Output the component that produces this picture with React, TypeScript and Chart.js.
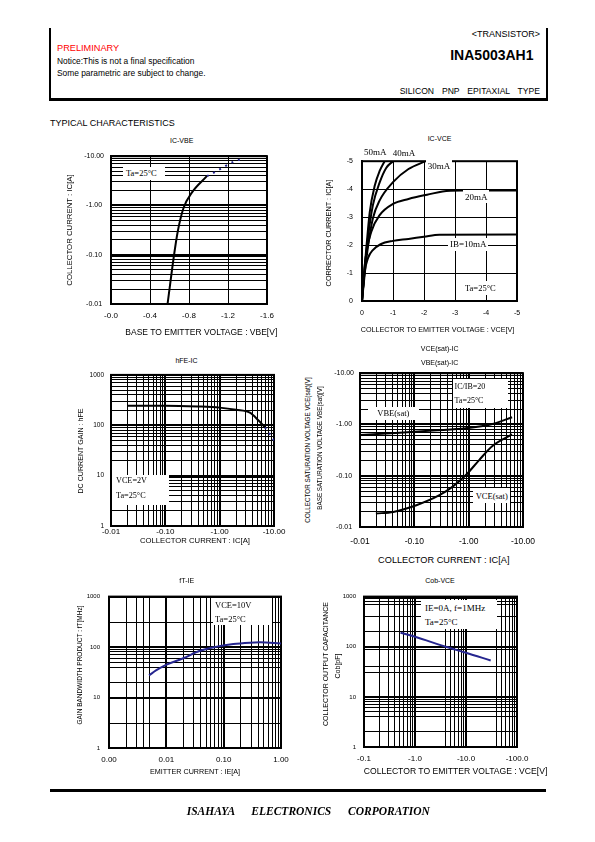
import React, { useEffect, useRef } from "react";
import { Chart, registerables } from "chart.js";

Chart.register(...registerables);

const SANS = '"Liberation Sans", Arial, Helvetica, sans-serif';
const SERIF = '"Liberation Serif", "Times New Roman", serif';
Chart.defaults.font.family = SANS;

// ---------------- data ----------------
// IC-VBE
const icVbeVbe = [0.58, 0.647, 0.685, 0.743, 0.829, 0.983];
const icVbeIc = [0.01, 0.1, 0.3, 0.88, 1.82, 3.93];
const icVbeVbeDotted = [0.983, 1.05, 1.127, 1.2, 1.27, 1.35];
const icVbeIcDotted = [3.93, 4.57, 5.57, 6.8, 7.94, 8.8];

// IC-VCE
const ib10Vce = [0, 0.08, 0.2, 0.35, 0.6, 1.0, 1.5, 2.0, 2.5, 5.0];
const ib10Ic = [0, 1.0, 1.55, 1.82, 2.03, 2.15, 2.22, 2.3, 2.37, 2.38];
const ib20Vce = [0, 0.1, 0.3, 0.57, 1.0, 1.5, 2.0, 2.1, 2.6, 3.2, 5.0];
const ib20Ic = [0, 1.4, 2.48, 3.07, 3.47, 3.65, 3.78, 3.8, 3.92, 3.95, 3.95];
const ib30Vce = [0, 0.1, 0.2, 0.35, 0.57, 1.0, 1.5, 2.05];
const ib30Ic = [0, 1.1, 2.0, 2.95, 3.6, 4.25, 4.72, 5.0];
const ib40Vce = [0, 0.1, 0.19, 0.35, 0.57, 0.78, 1.0];
const ib40Ic = [0, 1.3, 2.25, 3.42, 4.24, 4.76, 5.0];
const ib50Vce = [0, 0.07, 0.14, 0.25, 0.41, 0.57, 0.73];
const ib50Ic = [0, 1.0, 1.9, 3.18, 4.12, 4.65, 5.0];

// hFE-IC
const hfeIc = [0.02, 0.1, 0.4, 1.0, 2.0, 3.6, 5.2, 6.8];
const hfeGain = [245, 245, 236, 224, 203, 178, 124, 91];
const hfeIcDotted = [6.8, 8.5, 10];
const hfeGainDotted = [91, 65, 50];

// VCE(sat)/VBE(sat)-IC
const vbeSatIc = [0.01, 0.054, 0.22, 0.89, 2.74, 6.3];
const vbeSat = [0.62, 0.69, 0.76, 0.84, 1.02, 1.38];
const vceSatIc = [0.0196, 0.041, 0.109, 0.29, 0.5, 0.89, 1.56, 2.74, 6.3];
const vceSat = [0.0183, 0.0197, 0.0266, 0.0417, 0.0607, 0.103, 0.202, 0.38, 0.64];

// fT-IE
const ftIe = [0.005, 0.0067, 0.0101, 0.0197, 0.0385, 0.0755, 0.147, 0.288, 0.43, 1.0];
const ftMhz = [27.5, 34.8, 44.9, 60, 84.5, 102, 115, 122, 124, 117];

// Cob-VCE
const cobVce = [0.52, 1.0, 4.0, 10, 30.5];
const cobPf = [190, 158, 100, 76, 53];

// tick labels
const vbeTicks = [0, 0.4, 0.8, 1.2, 1.6];
const vbeTickLabels = ["-0.0", "-0.4", "-0.8", "-1.2", "-1.6"];
const ampDecades = [0.01, 0.1, 1, 10];
const ampDecadeLabels = ["-0.01", "-0.10", "-1.00", "-10.00"];
const unitTicks = [0, 1, 2, 3, 4, 5];
const unitTickLabels = ["0", "-1", "-2", "-3", "-4", "-5"];
const gainDecades = [1, 10, 100, 1000];
const gainDecadeLabels = ["1", "10", "100", "1000"];
const ieDecades = [0.001, 0.01, 0.1, 1];
const ieDecadeLabels = ["0.00", "0.01", "0.10", "1.00"];
const cobVceDecades = [0.1, 1, 10, 100];
const cobVceDecadeLabels = ["-0.1", "-1.0", "-10.0", "-100.0"];

// grid lines that survive in the printed fT and Cob charts
const ftGridX = [0.001, 0.002, 0.003, 0.004, 0.005, 0.01, 0.02, 0.03, 0.04, 0.05, 0.06, 0.07, 0.08, 0.09,
  0.1, 0.2, 0.3, 0.4, 0.5, 0.6, 0.7, 0.8, 0.9, 1];
const ftGridY = [1, 3, 10, 20, 40, 50, 60, 70, 80, 90, 100, 300, 1000];
const cobGridX = [0.1, 0.2, 0.3, 0.4, 0.5, 0.6, 0.7, 0.8, 0.9, 1, 4, 5, 6, 7, 8, 9, 10, 40, 50, 60, 70, 80, 90, 100];
const cobGridY = [1, 2, 4, 5, 6, 7, 8, 9, 10, 30, 40, 90, 100, 200, 400, 700, 800, 900, 1000];

// ---------------- helpers ----------------
function logGrid(lo: number, hi: number): number[] {
  const out: number[] = [];
  for (let e = Math.round(Math.log10(lo)); e < Math.round(Math.log10(hi)); e++) {
    const d = Math.pow(10, e);
    for (let k = 1; k < 10; k++) out.push(e < 0 ? k / Math.pow(10, -e) : k * d);
  }
  out.push(hi);
  return out;
}

type AxisSpec = {
  type: "linear" | "logarithmic";
  min: number;
  max: number;
  grid: number[];
  labelValues: number[];
  labels: string[];
  size: number;
  pad: number;
  align?: "near" | "center";
};

const AXW = 46;
const TOPP = 10;
const RIGHTP = 28;
const AXH = 26;

function isDecade(v: number) {
  const l = Math.log10(v);
  return Math.abs(l - Math.round(l)) < 1e-9;
}

function scaleOpts(s: AxisSpec, axis: "x" | "y") {
  return {
    type: s.type,
    min: s.min,
    max: s.max,
    position: axis === "x" ? "bottom" : "left",
    afterBuildTicks: (sc: any) => {
      sc.ticks = s.grid.map((v) => ({ value: v }));
    },
    afterFit: (sc: any) => {
      if (axis === "x") sc.height = AXH;
      else sc.width = AXW;
    },
    ticks: {
      autoSkip: false,
      maxRotation: 0,
      minRotation: 0,
      padding: s.pad,
      color: "#000",
      crossAlign: s.align ?? "near",
      font: { family: SANS, size: s.size },
      callback: (v: any) => {
        const i = s.labelValues.findIndex((lv) => Math.abs(lv - v) <= Math.abs(lv) * 1e-6 + 1e-12);
        return i >= 0 ? s.labels[i] : "";
      },
    },
    grid: {
      color: "#000",
      drawTicks: false,
      lineWidth: (c: any) =>
        s.type === "logarithmic" && c.tick && isDecade(c.tick.value) ? 2 : 1,
    },
    border: { display: true, color: "#000", width: 2 },
  };
}

const framePlugin = {
  id: "frame",
  beforeDatasetsDraw(chart: any) {
    const { ctx, chartArea } = chart;
    ctx.save();
    ctx.strokeStyle = "#000";
    ctx.lineWidth = 2;
    ctx.strokeRect(chartArea.left, chartArea.top, chartArea.right - chartArea.left, chartArea.bottom - chartArea.top);
    ctx.restore();
  },
};

const BLUE = "#26268f";

function series(xs: number[], ys: number[], color: string, width: number, dash?: number[]) {
  return {
    data: xs.map((x, i) => ({ x, y: ys[i] })),
    borderColor: color,
    borderWidth: width,
    borderDash: dash ?? [],
    pointRadius: 0,
    fill: false,
    cubicInterpolationMode: "monotone",
  };
}

function Panel(props: { plot: number[]; x: AxisSpec; y: AxisSpec; datasets: any[] }) {
  const ref = useRef<HTMLCanvasElement>(null);
  const [l, t, r, b] = props.plot;
  const width = AXW + (r - l) + RIGHTP;
  const height = TOPP + (b - t) + AXH;
  useEffect(() => {
    const chart = new Chart(ref.current as HTMLCanvasElement, {
      type: "line",
      data: { datasets: props.datasets },
      options: {
        animation: false,
        responsive: false,
        maintainAspectRatio: false,
        devicePixelRatio: 1,
        layout: { padding: { left: 0, top: TOPP, right: RIGHTP, bottom: 0 } },
        plugins: { legend: { display: false }, tooltip: { enabled: false }, title: { display: false } },
        scales: { x: scaleOpts(props.x, "x") as any, y: scaleOpts(props.y, "y") as any },
      } as any,
      plugins: [framePlugin],
    });
    return () => chart.destroy();
  }, []);
  return (
    <canvas
      ref={ref}
      width={width}
      height={height}
      style={{ position: "absolute", left: l - AXW, top: t - TOPP, width, height }}
    />
  );
}

function Txt(p: {
  x: number; y: number; text: string; size: number;
  anchor?: "left" | "center" | "right"; rotate?: boolean; family?: string;
  weight?: any; italic?: boolean; color?: string; wordSpacing?: number;
}) {
  const anchor = p.anchor ?? "center";
  const tx = anchor === "left" ? "0" : anchor === "right" ? "-100%" : "-50%";
  return (
    <div
      style={{
        position: "absolute",
        left: p.x,
        top: p.y,
        transform: `translate(${tx},-50%)${p.rotate ? " rotate(-90deg)" : ""}`,
        fontFamily: p.family ?? SANS,
        fontSize: p.size,
        fontWeight: p.weight ?? "normal",
        fontStyle: p.italic ? "italic" : "normal",
        color: p.color ?? "#000",
        whiteSpace: "pre",
        lineHeight: 1,
        wordSpacing: p.wordSpacing,
      }}
    >
      {p.text}
    </div>
  );
}

function WBox(p: { x: number; y: number; w: number; h: number }) {
  return <div style={{ position: "absolute", left: p.x, top: p.y, width: p.w, height: p.h, background: "#fff" }} />;
}

// ---------------- app ----------------
export default function App() {
  const c1x: AxisSpec = { type: "linear", min: 0, max: 1.6, grid: vbeTicks, labelValues: vbeTicks, labels: vbeTickLabels, size: 8, pad: 7 };
  const c1y: AxisSpec = { type: "logarithmic", min: 0.01, max: 10, grid: logGrid(0.01, 10), labelValues: ampDecades, labels: ampDecadeLabels, size: 7, pad: 7, align: "center" };

  const c2x: AxisSpec = { type: "linear", min: 0, max: 5, grid: unitTicks, labelValues: unitTicks, labels: unitTickLabels, size: 7, pad: 8 };
  const c2y: AxisSpec = { type: "linear", min: 0, max: 5, grid: unitTicks, labelValues: unitTicks, labels: unitTickLabels, size: 7, pad: 9 };

  const c3x: AxisSpec = { type: "logarithmic", min: 0.01, max: 10, grid: logGrid(0.01, 10), labelValues: ampDecades, labels: ampDecadeLabels, size: 8, pad: 1 };
  const c3y: AxisSpec = { type: "logarithmic", min: 1, max: 1000, grid: logGrid(1, 1000), labelValues: gainDecades, labels: gainDecadeLabels, size: 6.5, pad: 7 };

  const c4x: AxisSpec = { type: "logarithmic", min: 0.01, max: 10, grid: logGrid(0.01, 10), labelValues: ampDecades, labels: ampDecadeLabels, size: 8.5, pad: 9.5 };
  const c4y: AxisSpec = { type: "logarithmic", min: 0.01, max: 10, grid: logGrid(0.01, 10), labelValues: ampDecades, labels: ampDecadeLabels, size: 7, pad: 6, align: "center" };

  const c5x: AxisSpec = { type: "logarithmic", min: 0.001, max: 1, grid: ftGridX, labelValues: ieDecades, labels: ieDecadeLabels, size: 8, pad: 6.5 };
  const c5y: AxisSpec = { type: "logarithmic", min: 1, max: 1000, grid: ftGridY, labelValues: gainDecades, labels: gainDecadeLabels, size: 6, pad: 9 };

  const c6x: AxisSpec = { type: "logarithmic", min: 0.1, max: 100, grid: cobGridX, labelValues: cobVceDecades, labels: cobVceDecadeLabels, size: 8, pad: 6.5 };
  const c6y: AxisSpec = { type: "logarithmic", min: 1, max: 1000, grid: cobGridY, labelValues: gainDecades, labels: gainDecadeLabels, size: 6, pad: 8 };

  return (
    <div style={{ position: "absolute", left: 0, top: 0, width: 595, height: 842, background: "#fff", overflow: "hidden" }}>
      {/* header frame */}
      <div style={{ position: "absolute", left: 49, top: 28, width: 2, height: 72, background: "#000" }} />
      <div style={{ position: "absolute", left: 546, top: 28, width: 2, height: 72, background: "#000" }} />
      <div style={{ position: "absolute", left: 49, top: 98, width: 499, height: 2.5, background: "#000" }} />
      <Txt x={540} y={34.3} text={"<TRANSISTOR>"} size={9} anchor="right" />
      <Txt x={57} y={48.7} text="PRELIMINARY" size={9.2} anchor="left" color="#ff0000" />
      <Txt x={57} y={61.3} text="Notice:This is not a final specification" size={8.4} anchor="left" />
      <Txt x={57} y={72.7} text="Some parametric are subject to change." size={8.4} anchor="left" />
      <Txt x={533.5} y={54.5} text="INA5003AH1" size={14} anchor="right" weight="bold" />
      <Txt x={540} y={90.7} text="SILICON PNP EPITAXIAL TYPE" size={8.6} anchor="right" wordSpacing={5.5} />
      <Txt x={50} y={122.7} text="TYPICAL CHARACTERISTICS" size={9} anchor="left" />

      {/* charts */}
      <Panel
        plot={[111, 155, 267, 304]}
        x={c1x}
        y={c1y}
        datasets={[
          series(icVbeVbe, icVbeIc, "#000", 2),
          series(icVbeVbeDotted, icVbeIcDotted, BLUE, 2, [2, 5]),
        ]}
      />
      <Panel
        plot={[362, 158, 517, 301]}
        x={c2x}
        y={c2y}
        datasets={[
          series(ib10Vce, ib10Ic, "#000", 2),
          series(ib20Vce, ib20Ic, "#000", 2),
          series(ib30Vce, ib30Ic, "#000", 2),
          series(ib40Vce, ib40Ic, "#000", 2),
          series(ib50Vce, ib50Ic, "#000", 2),
        ]}
      />
      <Panel
        plot={[111, 374, 274, 526]}
        x={c3x}
        y={c3y}
        datasets={[
          series(hfeIc, hfeGain, "#000", 2),
          series(hfeIcDotted, hfeGainDotted, BLUE, 2, [2, 5]),
        ]}
      />
      <Panel
        plot={[360, 373, 523, 527]}
        x={c4x}
        y={c4y}
        datasets={[series(vbeSatIc, vbeSat, "#000", 2), series(vceSatIc, vceSat, "#000", 2)]}
      />
      <Panel plot={[109, 594, 281, 748]} x={c5x} y={c5y} datasets={[series(ftIe, ftMhz, BLUE, 2)]} />
      <Panel plot={[364, 595, 517, 747]} x={c6x} y={c6y} datasets={[series(cobVce, cobPf, BLUE, 2)]} />

      {/* chart 1 texts */}
      <Txt x={181.7} y={140} text="IC-VBE" size={7} />
      <Txt x={70} y={230} text="COLLECTOR CURRENT : IC[A]" size={7.8} rotate />
      <Txt x={201.3} y={331.7} text="BASE TO EMITTER VOLTAGE : VBE[V]" size={8.5} />
      <WBox x={123} y={167} w={42} h={13} />
      <Txt x={126} y={173.3} text="Ta=25°C" size={8.5} anchor="left" family={SERIF} />

      {/* chart 2 texts */}
      <Txt x={439.5} y={138.3} text="IC-VCE" size={7} />
      <Txt x={329} y={232.5} text="CORRECTOR CURRENT : IC[A]" size={7.3} rotate />
      <Txt x={437.5} y={330} text="COLLECTOR TO EMITTER VOLTAGE : VCE[V]" size={7.2} />
      <Txt x={364} y={151.7} text="50mA" size={9} anchor="left" family={SERIF} />
      <Txt x={392.7} y={152.7} text="40mA" size={9} anchor="left" family={SERIF} />
      <WBox x={426} y={160} w={26} h={12} />
      <Txt x={427.7} y={166} text="30mA" size={9} anchor="left" family={SERIF} />
      <WBox x={463} y={190} w={26} h={13} />
      <Txt x={465} y={196.7} text="20mA" size={9} anchor="left" family={SERIF} />
      <WBox x={448} y={238} w={40} h={13} />
      <Txt x={450} y={244.3} text="IB=10mA" size={9} anchor="left" family={SERIF} />
      <WBox x={462} y={281} w={41} h={14} />
      <Txt x={465} y={288.3} text="Ta=25°C" size={8.5} anchor="left" family={SERIF} />

      {/* chart 3 texts */}
      <Txt x={186.5} y={360} text="hFE-IC" size={7} />
      <Txt x={81.7} y={450.5} text="DC CURRENT GAIN : hFE" size={7.1} rotate />
      <Txt x={195} y={540.7} text="COLLECTOR CURRENT : IC[A]" size={7.7} />
      <WBox x={112} y={475} w={57} h={30} />
      <Txt x={116} y={480.7} text="VCE=2V" size={8.2} anchor="left" family={SERIF} />
      <Txt x={116} y={495.7} text="Ta=25°C" size={8.2} anchor="left" family={SERIF} />

      {/* chart 4 texts */}
      <Txt x={439.7} y={348.3} text="VCE(sat)-IC" size={7} />
      <Txt x={439.7} y={361.7} text="VBE(sat)-IC" size={7} />
      <Txt x={308.3} y={450} text="COLLECTOR SATURATION VOLTAGE VCE(sat)[V]" size={6.3} rotate />
      <Txt x={320} y={448} text="BASE SATURATION VOLTAGE VBE(sat)[V]" size={6.3} rotate />
      <Txt x={443.8} y={560.7} text="COLLECTOR CURRENT : IC[A]" size={9.2} />
      <WBox x={453} y={379} w={55} h={29} />
      <Txt x={454.5} y={386.7} text="IC/IB=20" size={8} anchor="left" family={SERIF} />
      <Txt x={454.5} y={401} text="Ta=25°C" size={8} anchor="left" family={SERIF} />
      <WBox x={368} y={407} w={51} h={13} />
      <Txt x={393.3} y={413.3} text="VBE(sat)" size={8.5} family={SERIF} />
      <WBox x={473} y={488} w={37} h={15} />
      <Txt x={491.7} y={496} text="VCE(sat)" size={8.5} family={SERIF} />

      {/* chart 5 texts */}
      <Txt x={186.7} y={580} text="fT-IE" size={7} />
      <Txt x={80} y={665} text="GAIN BANDWIDTH PRODUCT : fT[MHz]" size={6.5} rotate />
      <Txt x={195} y={771.7} text="EMITTER CURRENT : IE[A]" size={7.2} />
      <WBox x={213} y={598} w={59} h={27} />
      <Txt x={215} y={605} text="VCE=10V" size={8.5} anchor="left" family={SERIF} />
      <Txt x={215} y={619.3} text="Ta=25°C" size={8.5} anchor="left" family={SERIF} />

      {/* chart 6 texts */}
      <Txt x={440} y={580} text="Cob-VCE" size={7} />
      <Txt x={325} y={664} text="COLLECTOR OUTPUT CAPACITANCE" size={7} rotate />
      <Txt x={336.7} y={665.7} text="Cob[pF]" size={7} rotate />
      <Txt x={455.5} y={770.7} text="COLLECTOR TO EMITTER VOLTAGE : VCE[V]" size={8.6} />
      <WBox x={421} y={600} w={76} h={29} />
      <Txt x={425} y={607.7} text="IE=0A, f=1MHz" size={9} anchor="left" family={SERIF} />
      <Txt x={425} y={621.7} text="Ta=25°C" size={9} anchor="left" family={SERIF} />

      {/* footer */}
      <div style={{ position: "absolute", left: 50, top: 789, width: 496, height: 3, background: "#000" }} />
      <Txt
        x={308.3}
        y={812.3}
        text="ISAHAYA ELECTRONICS CORPORATION"
        size={11.5}
        family={SERIF}
        weight="bold"
        italic
        wordSpacing={14}
      />
    </div>
  );
}
